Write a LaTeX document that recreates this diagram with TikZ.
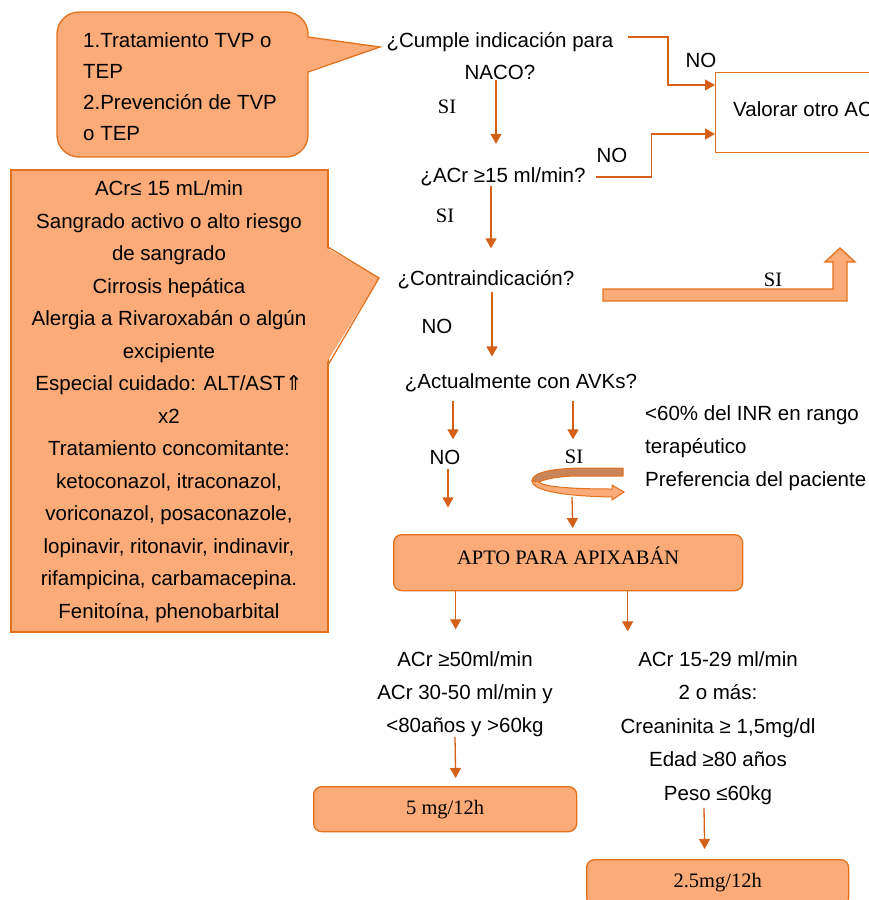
\documentclass[tikz,border=0pt]{standalone}
\usepackage{fontspec}
\setmainfont{Liberation Serif}
\setsansfont{Liberation Sans}
\newfontfamily\symfont{DejaVu Sans}
\usetikzlibrary{arrows.meta}
\definecolor{boxfill}{HTML}{FBAB78}
\definecolor{boxline}{HTML}{E2711D}
\definecolor{linec}{HTML}{D4601A}
\definecolor{darkband}{HTML}{C98457}
\begin{document}
\begin{tikzpicture}[x=1pt,y=-1pt,
  txt/.style={font=\sffamily\fontsize{20.5}{32}\selectfont, inner sep=0pt, align=center},
  sitxt/.style={font=\rmfamily\fontsize{20.5}{24}\selectfont, inner sep=0pt},
  arr/.style={draw=linec, line width=1.3pt, -{Triangle[width=11pt,length=10pt]}},
  callout/.style={fill=boxfill, draw=boxline, line width=1.3pt},
  cpointer/.style={draw=boxline, line width=1.3pt, line join=miter},
  obox/.style={fill=boxfill, draw=boxline, line width=1.3pt, rounded corners=8pt,
    font=\rmfamily\fontsize{20.5}{24}\selectfont, inner sep=0pt}]
\useasboundingbox (0,0) rectangle (869,900);
\clip (0,0) rectangle (869,900);

% ---- callout 1
\filldraw[callout, rounded corners=22pt] (57,12) rectangle (308,157);
\fill[boxfill] (305,37) -- (380,47) -- (305,72) -- cycle;
\draw[cpointer] (308,37) -- (380,47) -- (308,72);
\node[txt, align=left, anchor=west, font=\sffamily\fontsize{20.5}{31}\selectfont] (c1) at (83,86.5)
  {1.Tratamiento TVP o\\TEP\\2.Prevención de TVP\\o TEP};

% ---- callout 2
\filldraw[callout] (11,170) rectangle (328,632);
\fill[boxfill] (325,247) -- (379,278) -- (325,365) -- cycle;
\draw[cpointer] (328,247) -- (379,278) -- (328,365);
\node[txt, font=\sffamily\fontsize{20.5}{32.5}\selectfont] (c2) at (169,401.5)
  {ACr≤ 15 mL/min\\Sangrado activo o alto riesgo\\de sangrado\\Cirrosis hepática\\Alergia a Rivaroxabán o algún\\excipiente\\Especial cuidado: ALT/AST{\symfont ⇑}\\x2\\Tratamiento concomitante:\\ketoconazol, itraconazol,\\voriconazol, posaconazole,\\lopinavir, ritonavir, indinavir,\\rifampicina, carbamacepina.\\Fenitoína, phenobarbital};

% ---- main questions
\node[txt] (q1) at (500,56) {¿Cumple indicación para\\NACO?};
\coordinate (q1r) at (628,37);
\node[txt] (q2) at (503,177) {¿ACr ≥15 ml/min?};
\node[txt] (q3) at (486,280) {¿Contraindicación?};
\node[txt] (q4) at (521,383) {¿Actualmente con AVKs?};

% ---- Valorar box
\node[draw=boxline, line width=1.3pt, fill=white, minimum width=175, minimum height=80,
      anchor=north west, inner sep=0pt] (val) at (715,72) {};
\node[txt, anchor=west] (valt) at (733,109) {Valorar otro AC};

% ---- labels
\node[sitxt] (s1) at (447,107) {SI};
\node[sitxt] (s2) at (445,216) {SI};
\node[sitxt] (s3) at (773,280) {SI};
\node[sitxt] (s4) at (574,457) {SI};
\node[txt] (n1) at (701,60) {NO};
\node[txt] (n2) at (612,155) {NO};
\node[txt] (n3) at (437,326) {NO};
\node[txt] (n4) at (445,457) {NO};

% ---- connectors top
\draw[arr] (q1r) -- ++(40,0) |- ([yshift=-13pt]val.north west);
\draw[arr] ([xshift=10pt]q2.east) -- ++(56,0) |- ([yshift=-62pt]val.north west);
\draw[arr] ([xshift=-4pt]q1.south) -- ++(0,64);
\draw[arr] ([xshift=-12pt]q2.south) -- ++(0,62);
\draw[arr] ([xshift=6pt,yshift=-3pt]q3.south) -- ++(0,64);

% ---- big SI block arrow
\filldraw[callout, line join=miter] (603,289) -- (833,289) -- (833,262) -- (825,262) -- (840,248)
  -- (855,262) -- (847,262) -- (847,301) -- (603,301) -- cycle;

% ---- AVK branch
\draw[arr] ([xshift=-68pt,yshift=-9pt]q4.south) -- ++(0,38);
\draw[arr] ([xshift=52pt,yshift=-9pt]q4.south) -- ++(0,38);
\draw[arr] ([xshift=3pt,yshift=-5pt]n4.south) -- ++(0,38);

\node[txt, align=left, anchor=west, font=\sffamily\fontsize{20.5}{33}\selectfont] (inr) at (645,448)
  {<60\% del INR en rango\\terapéutico\\Preferencia del paciente};

% curved ribbon arrow
\filldraw[fill=darkband, draw=boxline, line width=1pt, line join=round]
  (623,468) -- (578,468) .. controls (545,469) and (532,474) .. (532,481)
  -- (539,482) .. controls (545,479) and (560,476) .. (578,476) -- (623,476) -- cycle;
\filldraw[fill=boxfill, draw=boxline, line width=1pt, line join=miter]
  (532,481) .. controls (532,489) and (555,496) .. (612,497) -- (612,500) -- (624,492)
  -- (612,485) -- (612,489) .. controls (565,489) and (542,486) .. (539,482) -- cycle;
\coordinate (cv) at (572,497);

% ---- APTO
\node[obox, minimum width=349, minimum height=56, anchor=north west,
      text height=13.6pt, text depth=10pt] (apto) at (393,534) {APTO PARA APIXABÁN};
\draw[arr] (cv) -- ([xshift=4.5pt,yshift=6pt]apto.north);
\draw[arr] ([xshift=-112.5pt]apto.south) -- ++(0,38);
\draw[arr] ([xshift=59.5pt]apto.south) -- ++(0,40);

% ---- dose branches
\node[txt, font=\sffamily\fontsize{20.5}{33}\selectfont] (L1) at (465,694)
  {ACr ≥50ml/min\\ACr 30-50 ml/min y\\<80años y >60kg};
\node[txt, font=\sffamily\fontsize{20.5}{33.5}\selectfont] (R1) at (718,728)
  {ACr 15-29 ml/min\\2 o más:\\Creaninita ≥ 1,5mg/dl\\Edad ≥80 años\\Peso ≤60kg};

\node[obox, minimum width=263, minimum height=45, anchor=north west] (m5) at (313,786) {5 mg/12h};
\node[obox, minimum width=262, minimum height=46, anchor=north west] (m25) at (586,859) {2.5mg/12h};

\draw[arr] ([xshift=-10pt]L1.south) -- ([xshift=10.5pt,yshift=8pt]m5.north);
\draw[arr] ([xshift=-14pt,yshift=-3pt]R1.south) -- ([xshift=-13pt,yshift=10pt]m25.north);
\end{tikzpicture}
\end{document}
